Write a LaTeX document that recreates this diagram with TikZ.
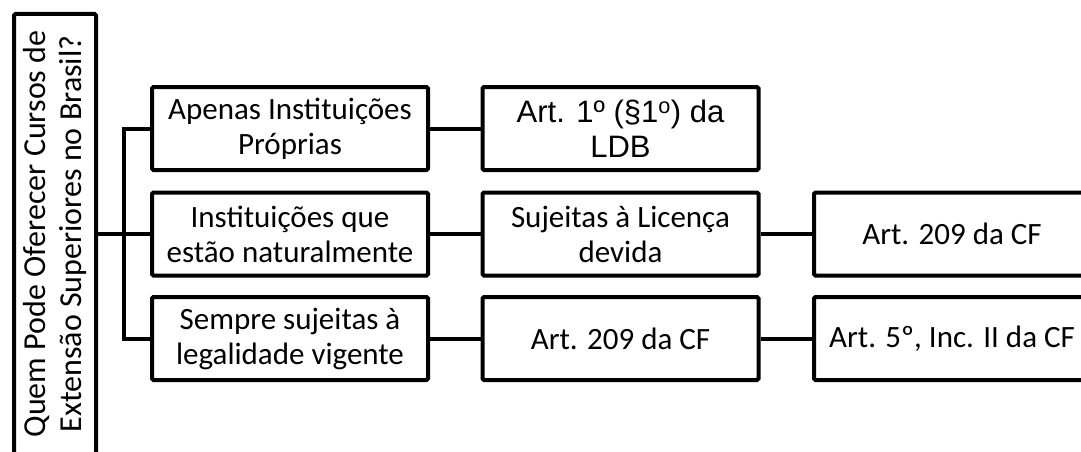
\documentclass[tikz,border=0pt]{standalone}
\usepackage{fontspec}
\setmainfont{Carlito}
\newfontfamily\arialf{Liberation Sans}
\begin{document}
\begin{tikzpicture}[x=1pt,y=-1pt,
  box/.style={draw=black, line width=4pt, rounded corners=1.5pt, minimum width=276pt, minimum height=83pt, align=center, inner sep=0pt, font=\fontsize{31}{35}\selectfont},
  conn/.style={draw=black, line width=4pt}]
\useasboundingbox[fill=white] (0,0) rectangle (1081,452);
\node[box, rotate=90, minimum width=440pt, minimum height=82pt, font=\fontsize{32}{36}\selectfont] (root) at (55,234) {Quem Pode Oferecer Cursos de\\Extensão Superiores no Brasil?};
\node[box] (a1) at (290,128.5) {Apenas Instituições\\Próprias};
\node[box] (a2) at (290,234) {Instituições que\\estão naturalmente};
\node[box] (a3) at (290,338.5) {Sempre sujeitas à\\legalidade vigente};
\node[box, font=\arialf\fontsize{31}{35}\selectfont] (b1) at (620.5,128.5) {Art. 1º (§1\textsuperscript{o}) da\\LDB};
\node[box] (b2) at (620.5,234) {Sujeitas à Licença\\devida};
\node[box] (b3) at (620.5,338.5) {Art. 209 da CF};
\node[box] (c2) at (952,234) {Art. 209 da CF};
\node[box] (c3) at (952,338.5) {Art. 5º, Inc. II da CF};
\coordinate (tr) at (124,234);
\draw[conn] (root.south) -- (a2.west);
\draw[conn] (a1.west) -| (tr) |- (a3.west);
\draw[conn] (a1.east) -- (b1.west);
\draw[conn] (a2.east) -- (b2.west);
\draw[conn] (a3.east) -- (b3.west);
\draw[conn] (b2.east) -- (c2.west);
\draw[conn] (b3.east) -- (c3.west);
\end{tikzpicture}
\end{document}
